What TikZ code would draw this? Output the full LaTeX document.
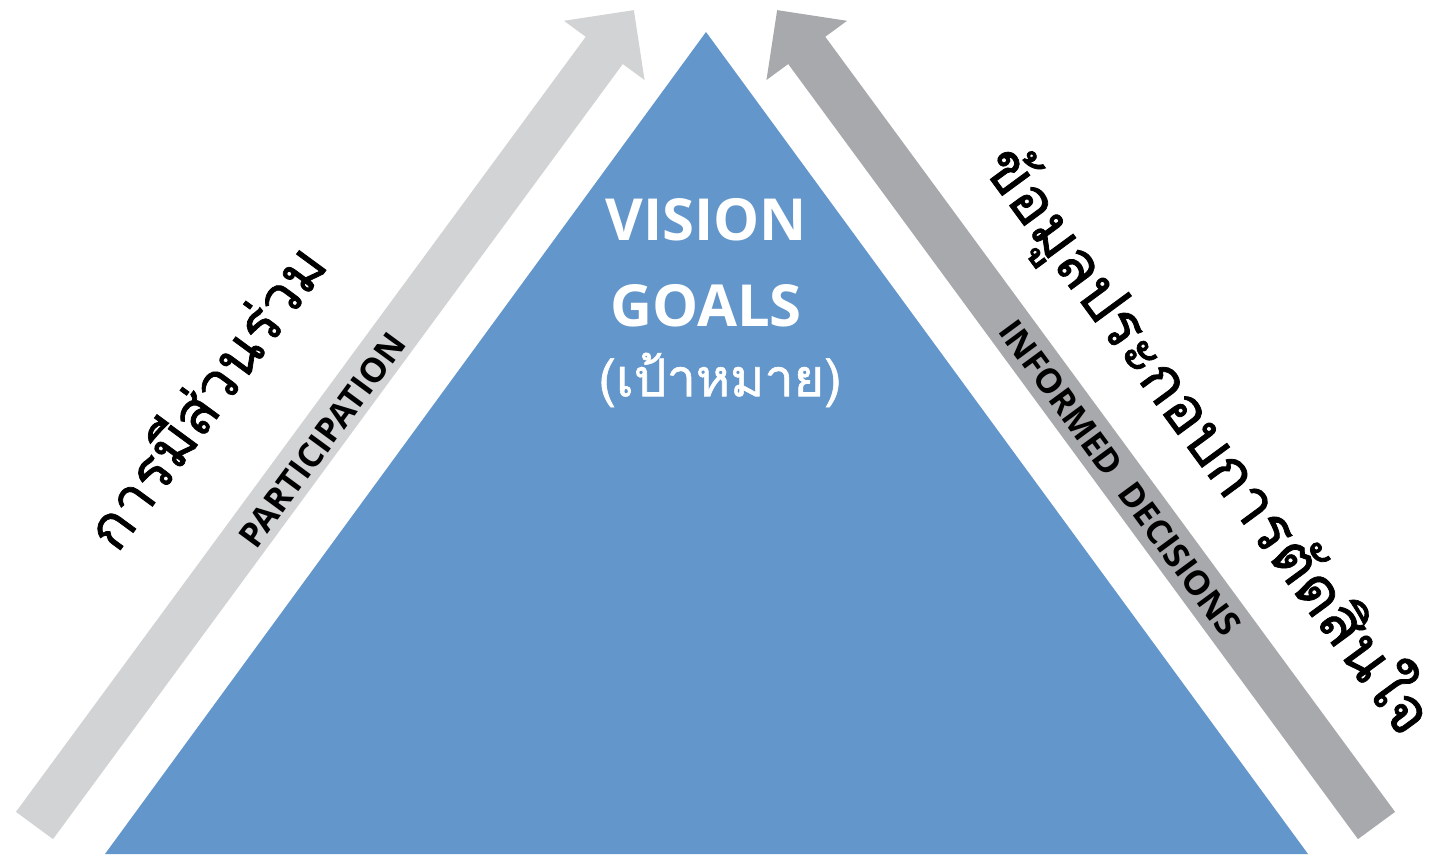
\documentclass[tikz,border=0pt]{standalone}
\usepackage{fontspec}
\setmainfont{Open Sans}
\newfontfamily\thaifont[Script=Thai, FakeBold=1.2]{Loma}
\definecolor{triblue}{HTML}{6396CA}
\definecolor{lightarrow}{HTML}{D1D3D4}
\definecolor{darkarrow}{HTML}{A7A9AC}
\tikzset{
  headtext/.style={text=white, font=\bfseries\fontsize{58}{60}\selectfont},
  shafttext/.style={text=black, font=\bfseries\fontsize{34}{36}\selectfont},
  thaibig/.style={text=black, inner sep=0pt, font=\thaifont\fontsize{62}{66}\selectfont},
}
\begin{document}
\begin{tikzpicture}[x=1pt,y=1pt]
\useasboundingbox (0,0) rectangle (1429,854);
% triangle
\fill[triblue] (706,822) -- (1308,0) -- (105,0) -- cycle;
% left arrow
\fill[lightarrow, shift={(34.5,28.5)}, rotate=53.68]
  (0,-23) -- (962,-23) -- (962,-50) -- (1012,0) -- (962,50) -- (962,23) -- (0,23) -- cycle;
% right arrow
\fill[darkarrow, shift={(1376.5,28.5)}, rotate=126.32]
  (0,-23) -- (962,-23) -- (962,-50) -- (1012,0) -- (962,50) -- (962,23) -- (0,23) -- cycle;
% texts
\node[headtext] (vision) at (706,634) {VISION};
\node[headtext] (goals) at (706,548) {GOALS};
\node[text=white, font=\thaifont\fontsize{52}{56}\selectfont] (thaigoal) at (720,474) {(เป้าหมาย)};
\node[shafttext, rotate=53.68] (part) at (322,414) {PARTICIPATION};
\node[shafttext, rotate=-53.68] (inf) at (1120,376) {INFORMED\ \ DECISIONS};
\node[thaibig, rotate=53.68, font=\thaifont\fontsize{60}{64}\selectfont] (thl) at (203,459) {การมีส่วนร่วม};
\node[thaibig, rotate=-53.68] (thr) at (1207,413) {ข้อมูลประกอบการตัดสินใจ};
\end{tikzpicture}
\end{document}
